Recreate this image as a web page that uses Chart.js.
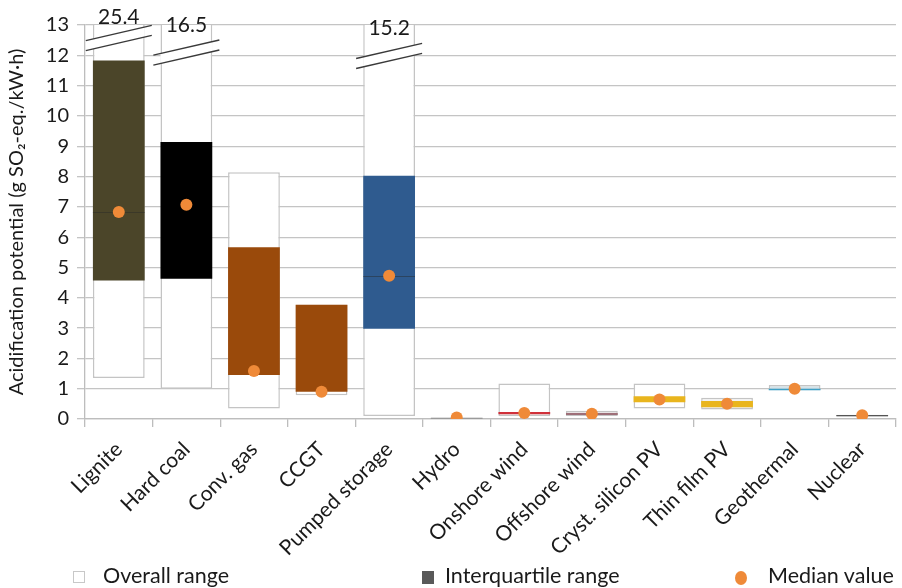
<!DOCTYPE html>
<html>
<head>
<meta charset="utf-8">
<script src="https://cdn.jsdelivr.net/npm/chart.js@4.4.1/dist/chart.umd.min.js"></script>
<style>
  body { margin: 0; background: #fff; }
  #wrap { position: relative; width: 902px; height: 588px; }
  .legend { position: absolute; top: 562px; font-family: Lato, "Open Sans", sans-serif; font-size: 21.5px; color: #1a1a1a; white-space: nowrap; }
  .legend span.mk { display: inline-block; vertical-align: middle; position: absolute; top: 9px; }
  .legend span.tx { position: absolute; left: 0; top: 0; }
</style>
</head>
<body>
<div id="wrap">
  <canvas id="chart" width="902" height="588"></canvas>
  <div class="legend" style="left:73px"><span class="mk" style="left:0;width:10px;height:10px;border:1px solid #c8c8c8;background:#fff"></span><span class="tx" style="left:30px">Overall range</span></div>
  <div class="legend" style="left:422px"><span class="mk" style="left:0;width:12px;height:13px;background:#595959"></span><span class="tx" style="left:23px">Interquartile range</span></div>
  <div class="legend" style="left:735px"><span class="mk" style="left:0;width:12px;height:14px;border-radius:50%;background:#ef8a38"></span><span class="tx" style="left:33px">Median value</span></div>
</div>
<script>
const categories = ["Lignite", "Hard coal", "Conv. gas", "CCGT", "Pumped storage", "Hydro",
  "Onshore wind", "Offshore wind", "Cryst. silicon PV", "Thin film PV", "Geothermal", "Nuclear"];
const overallMin = [1.35, 1.0, 0.35, 0.78, 0.1, 0.01, 0.1, 0.1, 0.35, 0.31, 0.95, 0.08];
const overallMax = [25.4, 16.5, 8.14, 3.77, 15.2, 0.04, 1.17, 0.27, 1.17, 0.7, 1.12, 0.14];
const iqrLow = [4.57, 4.63, 1.45, 0.9, 2.98, 0.01, 0.16, 0.13, 0.55, 0.39, 0.95, 0.09];
const iqrHigh = [11.83, 9.14, 5.67, 3.77, 8.03, 0.04, 0.23, 0.2, 0.75, 0.59, 1.0, 0.13];
const medians = [6.83, 7.07, 1.58, 0.9, 4.73, 0.05, 0.2, 0.17, 0.64, 0.5, 1.0, 0.12];
const yTicks = [0, 1, 2, 3, 4, 5, 6, 7, 8, 9, 10, 11, 12, 13];

const iqrColors = ["#4b4529", "#000000", "#9a4a0b", "#9a4a0b", "#2f5b8f", "#8c8c8c",
  "#d0303a", "#9e6f78", "#e9b51d", "#e9b51d", "#3ea0c6", "#555555"];
const overallFill = ["#fff", "#fff", "#fff", "#fff", "#fff", "#fff",
  "#fff", "#e4dfe0", "#fff", "#f2f2f2", "#d3e3ea", "#fff"];

// axis breaks for the bars that run off the top (value = middle of the two slashes)
const breaks = [
  { index: 0, value: 12.57, labelAt: 13.24 },
  { index: 1, value: 12.09, labelAt: 13.0 },
  { index: 4, value: 11.98, labelAt: 12.9 },
];

const FONT = 'Lato, "Open Sans", sans-serif';

const extras = {
  id: "extras",
  afterDatasetDraw(chart, args) {
    if (args.index !== 1) return;
    const ctx = chart.ctx;
    const y = chart.scales.y;
    const bars = chart.getDatasetMeta(0).data;

    // median lines across the box
    ctx.save();
    ctx.strokeStyle = "rgba(40,40,40,0.45)";
    ctx.lineWidth = 1;
    [0, 4].forEach(i => {
      const b = bars[i];
      const py = Math.round(y.getPixelForValue(medians[i])) + 0.5;
      ctx.beginPath();
      ctx.moveTo(b.x - b.width / 2, py);
      ctx.lineTo(b.x + b.width / 2, py);
      ctx.stroke();
    });
    ctx.restore();

    // break marks + true max labels
    ctx.save();
    breaks.forEach(br => {
      const b = bars[br.index];
      const cx = b.x, half = 33, slope = 0.23, gap = 5;
      const cy = y.getPixelForValue(br.value);
      const w = b.width / 2;
      ctx.fillStyle = "#fff";
      ctx.beginPath();
      ctx.moveTo(cx - w, cy - gap + w * slope);
      ctx.lineTo(cx + w, cy - gap - w * slope);
      ctx.lineTo(cx + w, cy + gap - w * slope);
      ctx.lineTo(cx - w, cy + gap + w * slope);
      ctx.closePath();
      ctx.fill();
      ctx.strokeStyle = "#3a3a3a";
      ctx.lineWidth = 1.4;
      [-gap, gap].forEach(off => {
        ctx.beginPath();
        ctx.moveTo(cx - half, cy + off + half * slope);
        ctx.lineTo(cx + half, cy + off - half * slope);
        ctx.stroke();
      });
      ctx.fillStyle = "#1a1a1a";
      ctx.font = "21px " + FONT;
      ctx.textAlign = "center";
      ctx.textBaseline = "middle";
      ctx.fillText(String(overallMax[br.index]), cx, y.getPixelForValue(br.labelAt));
    });
    ctx.restore();
  }
};

new Chart(document.getElementById("chart"), {
  type: "bar",
  data: {
    labels: categories,
    datasets: [
      {
        label: "Overall range",
        data: overallMin.map((v, i) => [v, overallMax[i]]),
        backgroundColor: overallFill,
        borderColor: "#c4c4c4",
        borderWidth: 1.5,
        borderSkipped: false,
        grouped: false,
        order: 3,
      },
      {
        label: "Interquartile range",
        data: iqrLow.map((v, i) => [v, iqrHigh[i]]),
        backgroundColor: iqrColors,
        borderWidth: 0,
        grouped: false,
        order: 2,
      },
      {
        type: "line",
        label: "Median value",
        data: medians,
        showLine: false,
        pointRadius: 6,
        pointBackgroundColor: "#ef8a38",
        pointBorderWidth: 0,
        order: 1,
      },
    ],
  },
  options: {
    responsive: false,
    animation: false,
    barPercentage: 0.766,
    categoryPercentage: 1,
    layout: { padding: { top: 25, right: 2, left: 0, bottom: 0 } },
    plugins: {
      legend: { display: false },
      tooltip: { enabled: false },
    },
    scales: {
      x: {
        afterFit: (s) => { s.height = 169; },
        grid: {
          offset: true,
          drawOnChartArea: false,
          tickLength: 8,
          color: "#bdbdbd",
          lineWidth: 1.3,
        },
        border: { color: "#bdbdbd", width: 1.3 },
        ticks: {
          minRotation: 45,
          maxRotation: 45,
          padding: 10,
          color: "#1a1a1a",
          font: { family: FONT, size: 21 },
        },
      },
      y: {
        min: 0,
        max: 13,
        afterFit: (s) => { s.width = 85; },
        afterBuildTicks: (s) => { s.ticks = yTicks.map(v => ({ value: v })); },
        grid: { color: "#c4c4c4", lineWidth: 1.3, tickLength: 8 },
        border: { color: "#bdbdbd", width: 1.3 },
        ticks: {
          padding: 8,
          color: "#1a1a1a",
          font: { family: FONT, size: 20 },
        },
        title: {
          display: true,
          text: "Acidification potential (g SO\u2082-eq./kW\u00b7h)",
          color: "#1a1a1a",
          font: { family: FONT, size: 20 },
          padding: { top: 5, bottom: 4 },
        },
      },
    },
  },
  plugins: [extras],
});
</script>
</body>
</html>
